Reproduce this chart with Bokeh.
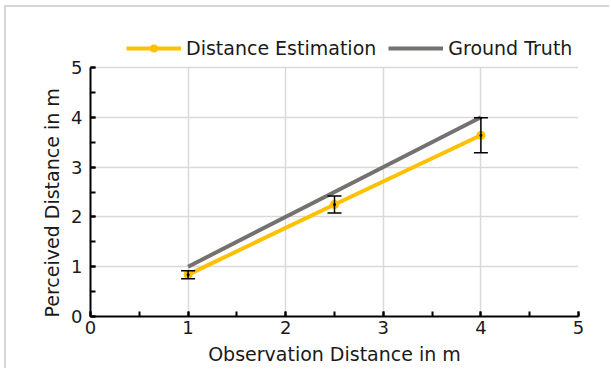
from bokeh.plotting import figure
from bokeh.models import (ColumnDataSource, Whisker, TeeHead, Legend, LegendItem,
                          SingleIntervalTicker, Range1d, BoxAnnotation, Title)
from bokeh.embed import file_html
from bokeh.resources import INLINE

# ---- data ----
obs_distance = [1.0, 2.5, 4.0]
estimated = [0.84, 2.25, 3.64]
est_error = [0.08, 0.17, 0.35]
ground_truth = [1.0, 2.5, 4.0]
series_names = ["Distance Estimation", "Ground Truth"]
x_title = "Observation Distance in m"
y_title = "Perceived Distance in m"
axis_min, axis_max = 0, 5

FONT = "DejaVu Sans"
TXT = "#1a1a1a"
YELLOW = "#FFC000"
GRAY = "#767171"

src = ColumnDataSource(dict(
    x=obs_distance,
    y=estimated,
    upper=[v + e for v, e in zip(estimated, est_error)],
    lower=[v - e for v, e in zip(estimated, est_error)],
))
gt_src = ColumnDataSource(dict(x=obs_distance, y=ground_truth))

# frame extends above y=5 to make room for the legend
FRAME_H = 309
PLOT_H = 249
y_top = axis_max * FRAME_H / PLOT_H

p = figure(width=605, height=363, output_backend="svg", toolbar_location=None,
           x_range=Range1d(axis_min, axis_max), y_range=Range1d(axis_min, y_top),
           min_border_left=84, min_border_right=33, min_border_top=0, min_border_bottom=54,
           margin=(5, 0, 0, 4))
p.styles = {"border-top": "2px solid #d6d6d6", "border-left": "2px solid #d6d6d6"}
p.outline_line_color = None
p.background_fill_color = "white"
p.border_fill_color = "white"

for ax in (p.xaxis[0], p.yaxis[0]):
    ax.ticker = SingleIntervalTicker(interval=1, num_minor_ticks=2)
    ax.bounds = (axis_min, axis_max)
    ax.axis_line_color = "black"
    ax.axis_line_width = 2
    ax.major_tick_in = 5
    ax.major_tick_out = 0
    ax.minor_tick_in = 5
    ax.minor_tick_out = 0
    ax.major_tick_line_color = "black"
    ax.minor_tick_line_color = "black"
    ax.major_tick_line_width = 2
    ax.minor_tick_line_width = 2
    ax.major_label_text_font = FONT
    ax.major_label_text_font_size = "18px"
    ax.major_label_text_color = TXT
    ax.axis_label_text_font = FONT
    ax.axis_label_text_font_size = "19px"
    ax.axis_label_text_font_style = "normal"
    ax.axis_label_text_color = TXT

p.xaxis.axis_label = x_title
p.xaxis.major_label_standoff = 4
p.yaxis.major_label_standoff = 8
p.xaxis.axis_label_standoff = 6

# y-axis title: starts at the bottom of the plot area, like the reference
ytitle = Title(text=y_title, align="left", offset=-1, standoff=11,
               text_font=FONT, text_font_size="19px", text_font_style="normal",
               text_color=TXT)
p.add_layout(ytitle, "left")

xg, yg = p.xgrid[0], p.ygrid[0]
for g in (xg, yg):
    g.ticker = SingleIntervalTicker(interval=1)
    g.grid_line_color = "#d9d9d9"
    g.grid_line_width = 1.5
    g.bounds = (axis_min, axis_max)

# white mask above the plot area (hides vertical grid lines there)
mask = BoxAnnotation(bottom=axis_max, fill_color="white", fill_alpha=1.0,
                     line_color=None, level="underlay")
p.add_layout(mask)
p.center = [xg, mask, yg] + [r for r in p.center if r not in (xg, mask, yg)]

est_line = p.line("x", "y", source=src, line_color=YELLOW, line_width=4)
gt_line = p.line("x", "y", source=gt_src, line_color=GRAY, line_width=4)
est_pts = p.scatter("x", "y", source=src, size=9, fill_color=YELLOW, line_color=None)

wh = Whisker(source=src, base="x", upper="upper", lower="lower",
             line_color="black", line_width=1.5, level="overlay",
             upper_head=TeeHead(size=14, line_color="black", line_width=1.5),
             lower_head=TeeHead(size=14, line_color="black", line_width=1.5))
p.add_layout(wh)
p.scatter("x", "y", source=src, size=3, fill_color="black", line_color=None, level="overlay")

legend = Legend(items=[
    LegendItem(label=series_names[0], renderers=[est_line, est_pts]),
    LegendItem(label=series_names[1], renderers=[gt_line]),
], orientation="horizontal", location=(36, 257),
    glyph_width=55, glyph_height=20, label_standoff=5, spacing=12,
    padding=0, margin=0, border_line_color=None, background_fill_alpha=0,
    label_text_font=FONT, label_text_font_size="19px", label_text_color=TXT,
    label_height=20)
p.add_layout(legend, "center")

open("out.html", "w").write(file_html(p, INLINE))
